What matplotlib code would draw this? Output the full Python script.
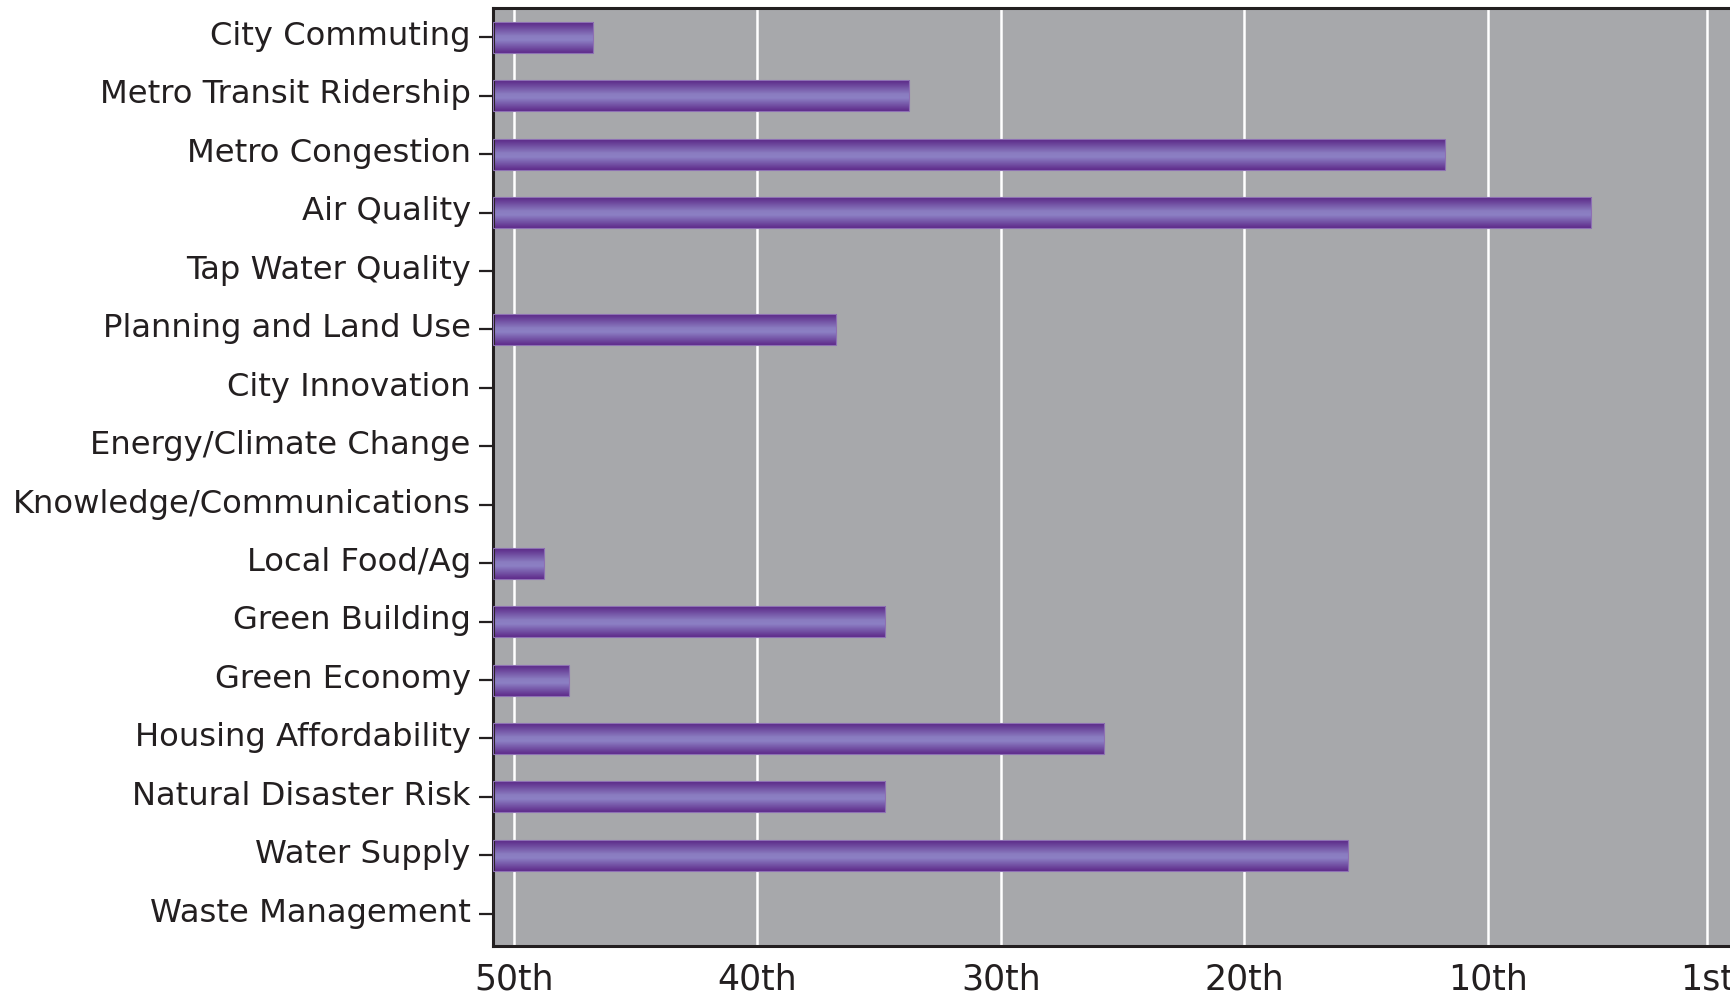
import matplotlib
matplotlib.use("Agg")
import matplotlib.pyplot as plt
import matplotlib.transforms as mtransforms
import numpy as np
from matplotlib.colors import LinearSegmentedColormap

categories = [
    "City Commuting", "Metro Transit Ridership", "Metro Congestion", "Air Quality",
    "Tap Water Quality", "Planning and Land Use", "City Innovation",
    "Energy/Climate Change", "Knowledge/Communications", "Local Food/Ag",
    "Green Building", "Green Economy", "Housing Affordability",
    "Natural Disaster Risk", "Water Supply", "Waste Management",
]
# rank (1 = best); nan = no bar
ranks = [47, 34, 12, 6, np.nan, 37, np.nan, np.nan, np.nan, 49,
         35, 48, 26, 35, 16, np.nan]
tick_ranks = [50, 40, 30, 20, 10, 1]
tick_labels = ["50th", "40th", "30th", "20th", "10th", "1st"]

X_LEFT, X_RIGHT = 50.86, 0.0
BAR_END_SHIFT = 0.25

plt.rcParams["font.family"] = ["DejaVu Sans"]

fig = plt.figure(figsize=(17.31, 9.97), dpi=100)
ax = fig.add_axes([0.2848, 0.0512, 0.7152, 0.9408])
ax.set_facecolor("#a7a8ab")

y = np.arange(len(categories))
ends = np.array(ranks, dtype=float) - BAR_END_SHIFT
bars = ax.barh(y, ends - X_LEFT, left=X_LEFT, height=0.53, color="none",
               edgecolor="#8d70b3", linewidth=0.8, zorder=3)

cmap = LinearSegmentedColormap.from_list(
    "bar", [(0.0, "#5e2a8a"), (0.42, "#8c80c4"), (0.55, "#8a7cc0"), (1.0, "#5a2686")])
grad = np.linspace(0, 1, 256).reshape(-1, 1)
for bar in bars:
    w = bar.get_width()
    if not np.isfinite(w):
        continue
    x0, y0, h = bar.get_x(), bar.get_y(), bar.get_height()
    im = ax.imshow(grad, cmap=cmap, aspect="auto", interpolation="bilinear",
                   extent=[x0, x0 + w, y0, y0 + h], zorder=2)
    im.set_clip_path(bar)

ax.set_xlim(X_LEFT, X_RIGHT)
ax.set_ylim(15.55, -0.5)

ax.set_xticks(tick_ranks)
ax.set_xticklabels(tick_labels, fontsize=25, color="#231f20")
ax.tick_params(axis="x", length=0, pad=12)
ax.set_yticks(y)
ax.set_yticklabels(categories, fontsize=23.2, color="#231f20")
ax.tick_params(axis="y", length=10, width=1.6, color="#231f20", pad=6)

# nudge category labels up a little, like the original typeface sits
shift = mtransforms.ScaledTranslation(0, 3 / 72, fig.dpi_scale_trans)
for lbl in ax.get_yticklabels():
    lbl.set_transform(lbl.get_transform() + shift)

ax.set_axisbelow(True)
ax.grid(axis="x", color="white", linewidth=1.8)
ax.grid(axis="y", visible=False)

for side in ("left", "top", "bottom"):
    ax.spines[side].set_color("#231f20")
    ax.spines[side].set_linewidth(2.2)
ax.spines["right"].set_visible(False)

fig.savefig("out.png", dpi=100)
